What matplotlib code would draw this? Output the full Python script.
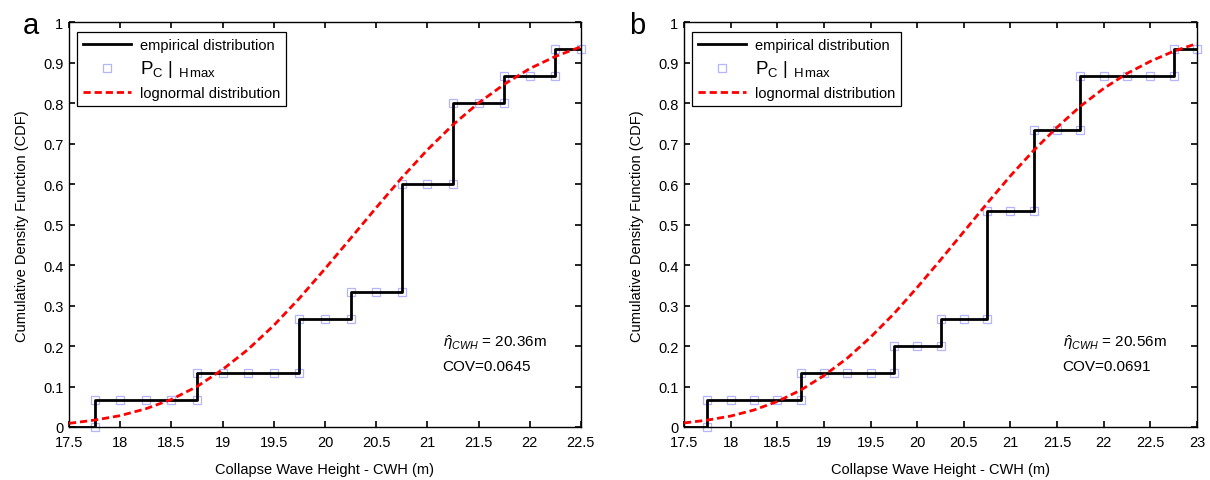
"""
Collapse wave height fragility: empirical CDF vs. fitted lognormal, two cases.
"""

import matplotlib
matplotlib.use('Agg')
import matplotlib.pyplot as plt
import numpy as np

# ---- data ----
# panel a
a_hmax = [17.75, 18.0, 18.25, 18.5, 18.75, 19.0, 19.25, 19.5, 19.75, 20.0,
          20.25, 20.5, 20.75, 21.0, 21.25, 21.5, 21.75, 22.0, 22.25, 22.5]
a_count = [1, 1, 1, 1, 2, 2, 2, 2, 4, 4, 5, 5, 9, 9, 12, 12, 13, 13, 14, 14]
a_x_fit = [17.5, 17.75, 18.0, 18.25, 18.5, 18.75, 19.0, 19.25, 19.5, 19.75, 20.0,
           20.25, 20.5, 20.75, 21.0, 21.25, 21.5, 21.75, 22.0, 22.25, 22.5]
a_cdf_fit = [0.009, 0.017, 0.028, 0.045, 0.068, 0.100, 0.142, 0.192, 0.251, 0.318,
             0.391, 0.466, 0.542, 0.616, 0.685, 0.747, 0.801, 0.847, 0.886, 0.916, 0.940]
a_eta, a_cov = '20.36', '0.0645'

# panel b
b_hmax = [17.75, 18.0, 18.25, 18.5, 18.75, 19.0, 19.25, 19.5, 19.75, 20.0, 20.25,
          20.5, 20.75, 21.0, 21.25, 21.5, 21.75, 22.0, 22.25, 22.5, 22.75, 23.0]
b_count = [1, 1, 1, 1, 2, 2, 2, 2, 3, 3, 4, 4, 8, 8, 11, 11, 13, 13, 13, 13, 14, 14]
b_x_fit = [17.5, 17.75, 18.0, 18.25, 18.5, 18.75, 19.0, 19.25, 19.5, 19.75, 20.0, 20.25,
           20.5, 20.75, 21.0, 21.25, 21.5, 21.75, 22.0, 22.25, 22.5, 22.75, 23.0]
b_cdf_fit = [0.010, 0.017, 0.027, 0.042, 0.063, 0.091, 0.127, 0.170, 0.222, 0.280, 0.345,
             0.413, 0.483, 0.553, 0.621, 0.684, 0.741, 0.793, 0.837, 0.874, 0.904, 0.929, 0.948]
b_eta, b_cov = '20.56', '0.0691'

n_total = 15

plt.rcParams['font.family'] = ['Liberation Sans', 'DejaVu Sans']
plt.rcParams['mathtext.fontset'] = 'custom'
plt.rcParams['mathtext.rm'] = 'Liberation Sans'
plt.rcParams['mathtext.it'] = 'Liberation Sans:italic'
plt.rcParams['mathtext.bf'] = 'Liberation Sans:bold'


def draw_panel(ax, hmax, count, x_fit, cdf_fit, xmax, eta, cov, text_x):
    pc = [c / n_total for c in count]
    # stair line starts at the left axis limit at zero
    ax.step([17.5] + hmax, [0.0] + pc, where='post', color='black', lw=2.0,
            zorder=3, label='empirical distribution')
    # markers at every stair vertex
    mx, my = [], []
    prev = 0.0
    for x, y in zip(hmax, pc):
        if y != prev:
            mx.append(x)
            my.append(prev)
        mx.append(x)
        my.append(y)
        prev = y
    ax.plot(mx, my, ls='none', marker='s', ms=6, mfc='none', mec='#b4b4ff',
            mew=0.9, clip_on=False, zorder=2,
            label=r'$\mathregular{P_C\ |\ _{H\,max}}$')
    ax.plot(x_fit, cdf_fit, color='red', lw=2.0, ls=(0, (2.6, 1.4)), zorder=4,
            label='lognormal distribution')

    ax.set_xlim(17.5, xmax)
    ax.set_ylim(0, 1)
    ax.set_xticks(np.arange(17.5, xmax + 0.01, 0.5))
    ax.set_yticks(np.arange(0, 1.01, 0.1))
    ax.xaxis.set_major_formatter(matplotlib.ticker.FormatStrFormatter('%g'))
    ax.yaxis.set_major_formatter(matplotlib.ticker.FormatStrFormatter('%g'))
    ax.tick_params(direction='in', length=4, width=1.2, top=True, right=True,
                   labelsize=10.5)
    ax.tick_params(axis='x', pad=6)
    ax.tick_params(axis='y', pad=4)
    for s in ax.spines.values():
        s.set_linewidth(1.0)
    ax.set_xlabel('Collapse Wave Height - CWH (m)', fontsize=10.5, labelpad=9)
    ax.set_ylabel('Cumulative Density Function (CDF)', fontsize=10.5, labelpad=10)

    ax.text(text_x, 0.21, r'$\hat{\eta}_{\mathit{CWH}}$ = ' + eta + 'm',
            fontsize=11, va='center')
    ax.text(text_x, 0.15, 'COV=' + cov, fontsize=11, va='center')

    leg = ax.legend(loc='upper left', bbox_to_anchor=(0.0156, 0.977),
                    borderaxespad=0, fancybox=False, framealpha=1,
                    edgecolor='black', fontsize=10.5, handlelength=3.3,
                    handletextpad=0.6, borderpad=0.4, labelspacing=0.45)
    leg.get_frame().set_linewidth(0.9)
    leg.get_texts()[1].set_fontsize(13.5)


fig = plt.figure(figsize=(12.1, 4.81), dpi=100)
ax_a = fig.add_axes([0.0570, 0.1102, 0.4231, 0.8410])
ax_b = fig.add_axes([0.5653, 0.1102, 0.4240, 0.8410])

draw_panel(ax_a, a_hmax, a_count, a_x_fit, a_cdf_fit, 22.5, a_eta, a_cov, 21.15)
draw_panel(ax_b, b_hmax, b_count, b_x_fit, b_cdf_fit, 23.0, b_eta, b_cov, 21.56)

fig.text(0.019, 0.93, 'a', fontsize=21)
fig.text(0.520, 0.93, 'b', fontsize=21)

fig.savefig('out.png', dpi=100)
